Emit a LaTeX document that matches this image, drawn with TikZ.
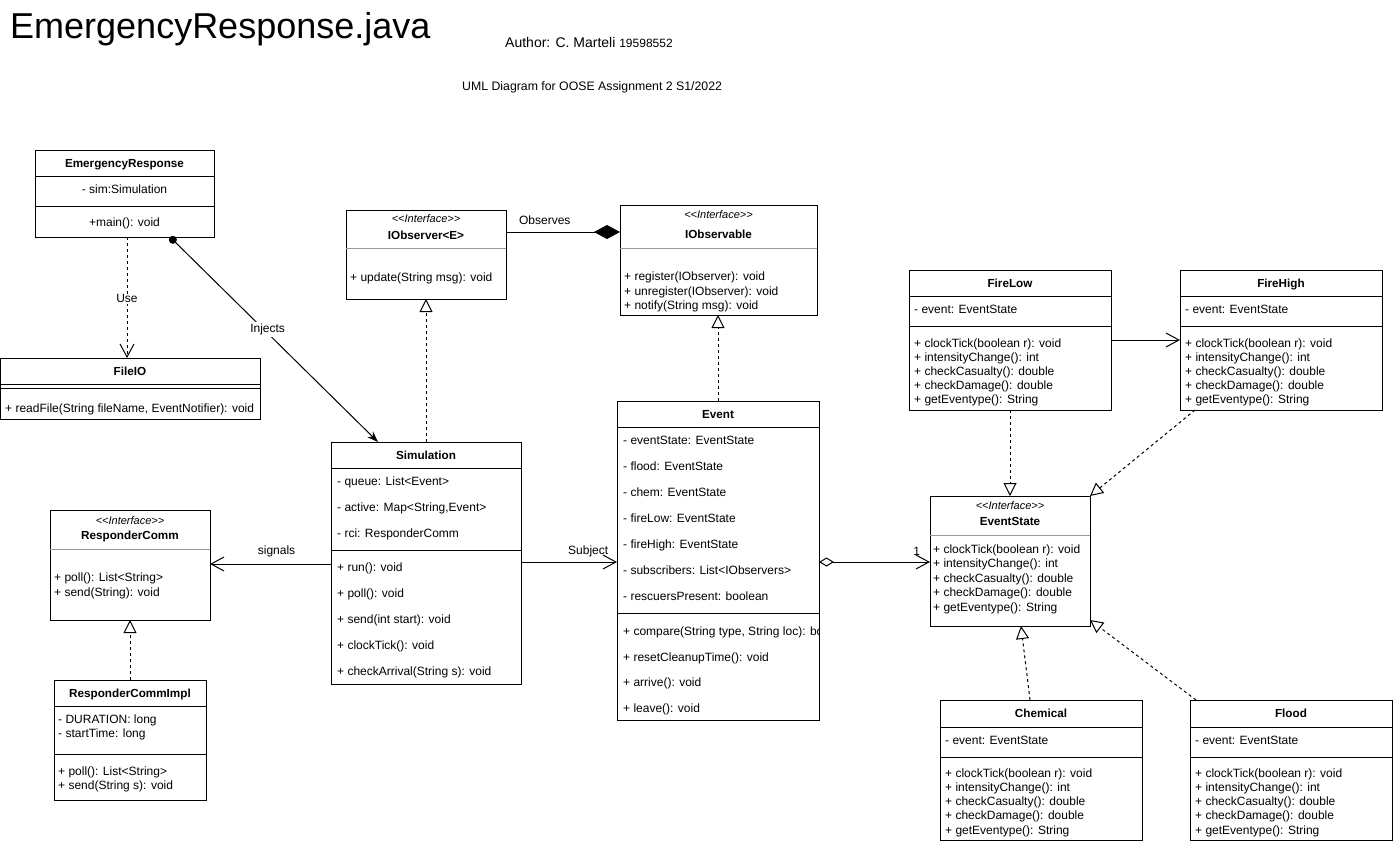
\documentclass[tikz,border=0pt]{standalone}
\usepackage{fontspec}
\usetikzlibrary{arrows.meta,calc}
\newfontfamily\uml{Liberation Sans}
\newcommand\umlL[4]{\node[txtl] (#1) at (#2,#3+4) {#4};}
\newcommand\umlC[4]{\node[txtc] (#1) at (#2,#3+4) {#4};}
\newcommand\umlB[4]{\node[txtb] (#1) at (#2,#3+4) {#4};}
\newcommand\umlS[4]{\node[txts] (#1) at (#2,#3+3.7) {#4};}
\newcommand\hsep[2]{\draw[sepl] ($(#1.north west)+(0,#2)$) -- ($(#1.north east)+(0,#2)$);}
\newcommand\gsep[2]{\draw[sepl,draw=gray!80] ($(#1.north west)+(0,#2)$) -- ($(#1.north east)+(0,#2)$);}
\tikzset{
  cls/.style={draw, line width=1pt, fill=white, anchor=north west, inner sep=0pt, outer sep=0pt},
  sepl/.style={line width=1pt},
  txtl/.style={anchor=base west, inner sep=0pt, font=\uml\fontsize{12}{14}\selectfont},
  txtc/.style={anchor=base, inner sep=0pt, font=\uml\fontsize{12}{14}\selectfont},
  txtb/.style={anchor=base, inner sep=0pt, font=\uml\bfseries\fontsize{11.7}{14}\selectfont},
  txts/.style={anchor=base, inner sep=0pt, font=\uml\itshape\fontsize{11}{13}\selectfont},
  lbl/.style={inner sep=1pt, font=\uml\fontsize{12}{14}\selectfont},
  conn/.style={line width=1pt},
  openarrow/.style={-{Straight Barb[length=13pt,width=14pt]}},
  real/.style={line width=1pt, dash pattern=on 3pt off 3pt, -{Triangle[open,length=13pt,width=13pt,fill=white]}},
}
\begin{document}
\begin{tikzpicture}[x=1pt,y=-1pt]
\path[use as bounding box] (0,0) rectangle (1393,844);

% titles
\node[anchor=base west, inner sep=0pt, font=\uml\fontsize{36}{40}\selectfont] (title) at (10,38) {EmergencyResponse.java};
\node[anchor=base west, inner sep=0pt, font=\uml\fontsize{14}{16}\selectfont] (author) at (505,47) {Author: C. Marteli {\fontsize{12}{14}\selectfont 19598552}};
\node[anchor=base west, inner sep=0pt, font=\uml\fontsize{12.3}{14}\selectfont] (subt) at (462,90) {UML Diagram for OOSE Assignment 2 S1/2022};

% EmergencyResponse
\node[cls, minimum width=179, minimum height=87] (ER) at (35,150) {};
\hsep{ER}{26}\hsep{ER}{56}
\umlB{erT}{124.5}{163}{EmergencyResponse}
\umlC{erA}{124.5}{189}{- sim:Simulation}
\umlC{erM}{124.5}{222}{+main(): void}

% FileIO
\node[cls, minimum width=260, minimum height=61] (FIO) at (0,358) {};
\hsep{FIO}{26}\hsep{FIO}{30}
\umlB{fioT}{130}{371}{FileIO}
\umlL{fioM}{5}{408}{+ readFile(String fileName, EventNotifier): void}

% IObserver
\node[cls, minimum width=160, minimum height=89] (IOR) at (346,210) {};
\gsep{IOR}{38}
\umlS{iorS}{426}{219}{<<Interface>>}
\umlB{iorT}{426}{235}{IObserver<E>}
\umlL{iorM}{350}{277}{+ update(String msg): void}

% IObservable
\node[cls, minimum width=197, minimum height=110] (IOL) at (620,205) {};
\gsep{IOL}{43}
\umlS{iolS}{718.5}{215}{<<Interface>>}
\umlB{iolT}{718.5}{234}{IObservable}
\umlL{iolM1}{624}{276}{+ register(IObserver): void}
\umlL{iolM2}{624}{291}{+ unregister(IObserver): void}
\umlL{iolM3}{624}{305}{+ notify(String msg): void}

% Simulation
\node[cls, minimum width=190, minimum height=242] (SIM) at (331,442) {};
\hsep{SIM}{26}\hsep{SIM}{108}
\umlB{simT}{426}{455}{Simulation}
\umlL{simA1}{337}{481}{- queue: List<Event>}
\umlL{simA2}{337}{507}{- active: Map<String,Event>}
\umlL{simA3}{337}{533}{- rci: ResponderComm}
\umlL{simM1}{337}{567}{+ run(): void}
\umlL{simM2}{337}{593}{+ poll(): void}
\umlL{simM3}{337}{619}{+ send(int start): void}
\umlL{simM4}{337}{645}{+ clockTick(): void}
\umlL{simM5}{337}{671}{+ checkArrival(String s): void}

% Event
\node[cls, minimum width=202, minimum height=319] (EV) at (617,401) {};
\hsep{EV}{26}\hsep{EV}{212}
\umlB{evT}{718}{414}{Event}
\umlL{evA1}{623}{440}{- eventState: EventState}
\umlL{evA2}{623}{466}{- flood: EventState}
\umlL{evA3}{623}{492}{- chem: EventState}
\umlL{evA4}{623}{518}{- fireLow: EventState}
\umlL{evA5}{623}{544}{- fireHigh: EventState}
\umlL{evA6}{623}{570}{- subscribers: List<IObservers>}
\umlL{evA7}{623}{596}{- rescuersPresent: boolean}
\begin{scope}
\clip (EV.north west) rectangle (EV.south east);
\umlL{evM1}{623}{631}{+ compare(String type, String loc): boolean}
\end{scope}
\umlL{evM2}{623}{657}{+ resetCleanupTime(): void}
\umlL{evM3}{623}{682}{+ arrive(): void}
\umlL{evM4}{623}{708}{+ leave(): void}

% ResponderComm
\node[cls, minimum width=160, minimum height=110] (RC) at (50,510) {};
\gsep{RC}{39}
\umlS{rcS}{130}{521}{<<Interface>>}
\umlB{rcT}{130}{535}{ResponderComm}
\umlL{rcM1}{54}{577}{+ poll(): List<String>}
\umlL{rcM2}{54}{592}{+ send(String): void}

% ResponderCommImpl
\node[cls, minimum width=152, minimum height=120] (RCI) at (54,680) {};
\hsep{RCI}{26}\hsep{RCI}{74}
\umlB{rciT}{130}{693}{ResponderCommImpl}
\umlL{rciA1}{58}{719}{- DURATION: long}
\umlL{rciA2}{58}{733}{- startTime: long}
\umlL{rciM1}{58}{771}{+ poll(): List<String>}
\umlL{rciM2}{58}{785}{+ send(String s): void}

% FireLow
\node[cls, minimum width=202, minimum height=140] (FL) at (909,270) {};
\hsep{FL}{26}\hsep{FL}{56}
\umlB{flT}{1010}{283}{FireLow}
\umlL{flA}{914}{309}{- event: EventState}
\umlL{flM1}{914}{343}{+ clockTick(boolean r): void}
\umlL{flM2}{914}{357}{+ intensityChange(): int}
\umlL{flM3}{914}{371}{+ checkCasualty(): double}
\umlL{flM4}{914}{385}{+ checkDamage(): double}
\umlL{flM5}{914}{399}{+ getEventype(): String}

% FireHigh
\node[cls, minimum width=202, minimum height=140] (FH) at (1180,270) {};
\hsep{FH}{26}\hsep{FH}{56}
\umlB{fhT}{1281}{283}{FireHigh}
\umlL{fhA}{1185}{309}{- event: EventState}
\umlL{fhM1}{1185}{343}{+ clockTick(boolean r): void}
\umlL{fhM2}{1185}{357}{+ intensityChange(): int}
\umlL{fhM3}{1185}{371}{+ checkCasualty(): double}
\umlL{fhM4}{1185}{385}{+ checkDamage(): double}
\umlL{fhM5}{1185}{399}{+ getEventype(): String}

% EventState
\node[cls, minimum width=160, minimum height=130] (ES) at (930,496) {};
\gsep{ES}{39}
\umlS{esS}{1010}{506}{<<Interface>>}
\umlB{esT}{1010}{521}{EventState}
\umlL{esM1}{933}{549}{+ clockTick(boolean r): void}
\umlL{esM2}{933}{563}{+ intensityChange(): int}
\umlL{esM3}{933}{578}{+ checkCasualty(): double}
\umlL{esM4}{933}{592}{+ checkDamage(): double}
\umlL{esM5}{933}{607}{+ getEventype(): String}

% Chemical
\node[cls, minimum width=202, minimum height=140] (CH) at (940,700) {};
\hsep{CH}{27}\hsep{CH}{57}
\umlB{chT}{1041}{713}{Chemical}
\umlL{chA}{945}{740}{- event: EventState}
\umlL{chM1}{945}{773}{+ clockTick(boolean r): void}
\umlL{chM2}{945}{787}{+ intensityChange(): int}
\umlL{chM3}{945}{801}{+ checkCasualty(): double}
\umlL{chM4}{945}{815}{+ checkDamage(): double}
\umlL{chM5}{945}{830}{+ getEventype(): String}

% Flood
\node[cls, minimum width=202, minimum height=140] (FLD) at (1190,700) {};
\hsep{FLD}{27}\hsep{FLD}{57}
\umlB{fldT}{1291}{713}{Flood}
\umlL{fldA}{1195}{740}{- event: EventState}
\umlL{fldM1}{1195}{773}{+ clockTick(boolean r): void}
\umlL{fldM2}{1195}{787}{+ intensityChange(): int}
\umlL{fldM3}{1195}{801}{+ checkCasualty(): double}
\umlL{fldM4}{1195}{815}{+ checkDamage(): double}
\umlL{fldM5}{1195}{830}{+ getEventype(): String}

% ---- connectors ----
% Injects
\draw[conn, {Circle[length=8pt]}-{Stealth[length=11pt,width=8pt]}]
  ($(ER.south west)+(135,0)$) -- ($(SIM.north west)+(47,0)$)
  node[lbl, pos=0.45, fill=white, inner sep=2pt, xshift=4pt] (injL) {Injects};
% Use
\draw[conn, dash pattern=on 3pt off 3pt, openarrow]
  ($(ER.south west)+(92,0)$) -- ($(FIO.north west)+(127,0)$)
  node[lbl, pos=0.51, fill=white] (useL) {Use};
% Observes (composition)
\draw[conn, -{Diamond[length=26pt,width=14pt]}]
  ($(IOR.north east)+(0,22)$) -- ($(IOL.north west)+(0,27)$)
  node[lbl, pos=0.34, anchor=base, yshift=8pt, inner sep=0pt] (obsL) {Observes};
% realizations
\draw[real] (SIM.north) -- (SIM.north |- IOR.south);
\draw[real] (EV.north) -- (EV.north |- IOL.south);
\draw[real] (RCI.north) -- (RC.south);
\draw[real] (FL.south) -- (FL.south |- ES.north);
\draw[real] ($(FH.south west)+(15,0)$) -- (ES.north east);
\draw[real] ($(CH.north west)+(90,0)$) -- ($(ES.south west)+(91,0)$);
\draw[real] ($(FLD.north west)+(6,0)$) -- ($(ES.south east)+(0,-6)$);
% Subject
\draw[conn, openarrow]
  ($(SIM.north east)+(0,120)$) -- ($(EV.north west)+(0,161)$)
  node[lbl, pos=0.70, anchor=base, yshift=8pt, inner sep=0pt] (subL) {Subject};
% signals
\draw[conn, openarrow]
  ($(SIM.north west)+(0,122)$) -- ($(RC.north east)+(0,54)$)
  node[lbl, pos=0.45, anchor=base, yshift=10pt, inner sep=0pt] (sigL) {signals};
% FireLow -> FireHigh
\draw[conn, openarrow]
  ($(FL.north east)+(0,70)$) -- ($(FH.north west)+(0,70)$);
% Event -> EventState
\draw[conn, {Diamond[open,length=15pt,width=9pt,fill=white]}-{Straight Barb[length=13pt,width=14pt]}]
  ($(EV.north east)+(0,161)$) -- ($(ES.north west)+(0,66)$)
  node[lbl, pos=0.88, anchor=base, yshift=7pt, inner sep=0pt] (oneL) {1};
\end{tikzpicture}
\end{document}
